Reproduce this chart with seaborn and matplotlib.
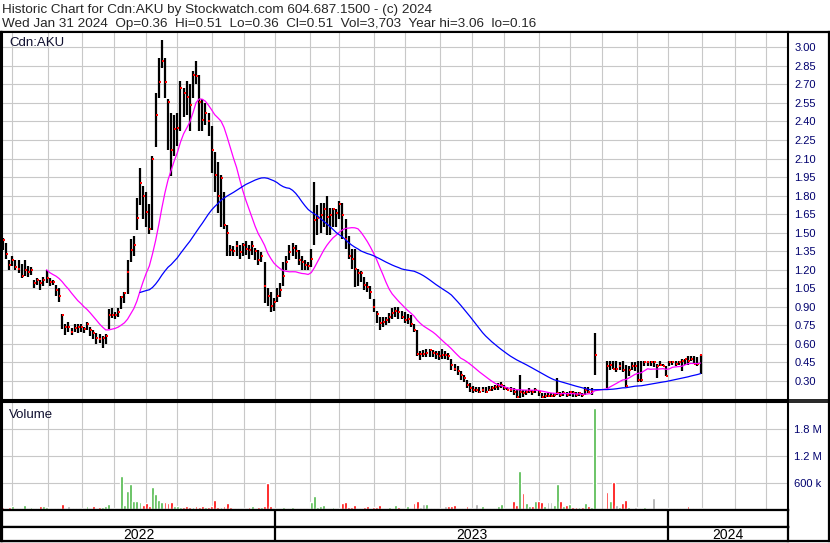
import numpy as np
import pandas as pd
import matplotlib
matplotlib.use("Agg")
import matplotlib.pyplot as plt
import seaborn as sns
from matplotlib.lines import Line2D

# Price bars, one sample every 2 trading days (Apr 2022 - Jan 31 2024), None = no trades
high = [1.46, 1.42, 1.28, 1.31, 1.28, 1.28, 1.25, 1.28, 1.23, 1.22,
        1.12, 1.13, 1.12, 1.14, 1.20, 1.13, 1.12, 1.08, 1.05, 0.84,
        0.76, 0.78, 0.73, 0.76, 0.76, 0.76, 0.74, 0.78, 0.74, 0.71,
        0.69, 0.68, 0.66, 0.68, 0.88, 0.89, 0.86, 0.89, 0.99, 1.02,
        1.28, 1.45, 1.47, 1.78, 2.02, 1.88, 1.83, 1.73, 2.12, 2.63,
        2.91, 3.06, 2.91, 2.58, 2.47, 2.45, 2.47, 2.73, 2.67, 2.73,
        2.70, 2.81, 2.89, 2.78, 2.58, 2.55, 2.47, 2.36, 2.15, 2.07,
        1.97, 1.83, 1.56, 1.40, 1.39, 1.43, 1.40, 1.42, 1.43, 1.40,
        1.43, 1.38, 1.36, 1.34, 1.26, 1.05, 1.02, 0.97, 1.05, 1.09,
        1.26, 1.31, 1.40, 1.42, 1.40, 1.36, 1.31, 1.28, 1.26, 1.37,
        1.91, 1.72, 1.74, 1.74, 1.80, 1.70, 1.70, 1.69, 1.76, 1.74,
        1.61, 1.47, 1.37, 1.37, 1.21, 1.19, 1.14, 1.10, 1.07, 0.96,
        0.87, 0.82, 0.82, 0.82, 0.85, 0.89, 0.90, 0.90, 0.87, 0.86,
        0.84, 0.83, 0.76, 0.71, 0.54, 0.55, 0.56, 0.56, 0.55, 0.54,
        0.54, 0.56, 0.54, 0.53, 0.48, 0.44, 0.42, 0.38, 0.35, 0.31,
        0.28, 0.26, 0.25, 0.25, 0.25, 0.25, 0.26, 0.26, 0.27, 0.28,
        0.29, 0.27, 0.25, 0.25, 0.24, 0.23, 0.35, 0.23, 0.23, 0.24,
        0.23, 0.24, 0.23, 0.20, 0.20, 0.20, 0.20, 0.20, 0.32, 0.21,
        0.22, 0.21, 0.22, 0.22, 0.21, 0.21, 0.20, 0.25, 0.25, 0.24,
        0.69, None, None, None, 0.46, 0.46, 0.46, 0.46, 0.45, 0.46,
        0.43, 0.42, 0.45, 0.45, 0.46, 0.46, 0.46, 0.46, 0.46, 0.46,
        0.44, 0.46, 0.44, 0.42, 0.46, 0.46, 0.46, 0.46, 0.48, 0.48,
        0.50, 0.50, 0.50, 0.49, 0.51]
low = [1.36, 1.29, 1.20, 1.23, 1.20, 1.17, 1.13, 1.15, 1.14, 1.16,
       1.05, 1.08, 1.04, 1.07, 1.09, 1.07, 1.08, 0.99, 0.94, 0.72,
       0.67, 0.70, 0.67, 0.70, 0.69, 0.70, 0.69, 0.71, 0.66, 0.64,
       0.60, 0.61, 0.57, 0.60, 0.72, 0.81, 0.80, 0.82, 0.88, 0.93,
       1.00, 1.26, 1.31, 1.52, 1.72, 1.61, 1.55, 1.49, 1.52, 2.19,
       2.59, 2.83, 2.59, 2.17, 1.96, 2.12, 2.20, 2.32, 2.44, 2.45,
       2.32, 2.59, 2.70, 2.32, 2.32, 2.37, 2.28, 1.98, 1.83, 1.66,
       1.55, 1.53, 1.31, 1.31, 1.31, 1.31, 1.29, 1.31, 1.32, 1.29,
       1.32, 1.28, 1.24, 1.26, 0.93, 0.91, 0.86, 0.87, 0.94, 0.98,
       1.07, 1.20, 1.28, 1.31, 1.29, 1.24, 1.20, 1.20, 1.20, 1.22,
       1.40, 1.48, 1.50, 1.55, 1.48, 1.48, 1.55, 1.55, 1.61, 1.45,
       1.37, 1.29, 1.21, 1.06, 1.07, 1.10, 1.04, 1.02, 0.96, 0.86,
       0.77, 0.71, 0.74, 0.75, 0.77, 0.80, 0.82, 0.80, 0.80, 0.77,
       0.76, 0.74, 0.70, 0.50, 0.47, 0.49, 0.49, 0.49, 0.49, 0.48,
       0.47, 0.48, 0.48, 0.47, 0.39, 0.38, 0.35, 0.31, 0.29, 0.24,
       0.21, 0.20, 0.21, 0.20, 0.21, 0.20, 0.22, 0.22, 0.23, 0.23,
       0.24, 0.23, 0.23, 0.21, 0.19, 0.16, 0.16, 0.17, 0.19, 0.20,
       0.19, 0.20, 0.18, 0.16, 0.16, 0.17, 0.17, 0.17, 0.19, 0.17,
       0.18, 0.17, 0.18, 0.17, 0.17, 0.18, 0.17, 0.19, 0.20, 0.19,
       0.35, None, None, None, 0.24, 0.39, 0.40, 0.37, 0.39, 0.37,
       0.25, 0.34, 0.39, 0.38, 0.29, 0.29, 0.42, 0.42, 0.42, 0.41,
       0.32, 0.42, 0.42, 0.34, 0.42, 0.43, 0.42, 0.43, 0.38, 0.43,
       0.43, 0.46, 0.44, 0.42, 0.36]
close = [1.44, 1.33, 1.24, 1.28, 1.22, 1.21, 1.15, 1.20, 1.18, 1.20,
         1.09, 1.12, 1.09, 1.12, 1.13, 1.10, 1.10, 1.04, 0.99, 0.83,
         0.74, 0.74, 0.70, 0.73, 0.74, 0.74, 0.72, 0.76, 0.71, 0.69,
         0.65, 0.64, 0.65, 0.66, 0.83, 0.83, 0.83, 0.86, 0.98, 1.01,
         1.18, 1.36, 1.40, 1.62, 1.90, 1.80, 1.67, 1.53, 2.10, 2.45,
         2.72, 2.89, 2.72, 2.56, 2.17, 2.34, 2.35, 2.67, 2.63, 2.60,
         2.53, 2.78, 2.77, 2.56, 2.41, 2.47, 2.40, 2.17, 1.97, 1.80,
         1.94, 1.56, 1.50, 1.36, 1.35, 1.39, 1.34, 1.40, 1.37, 1.36,
         1.39, 1.35, 1.28, 1.31, 1.07, 0.99, 0.91, 0.94, 0.99, 1.04,
         1.15, 1.26, 1.34, 1.38, 1.35, 1.28, 1.26, 1.24, 1.23, 1.29,
         1.60, 1.62, 1.64, 1.69, 1.63, 1.64, 1.69, 1.66, 1.73, 1.64,
         1.45, 1.31, 1.29, 1.21, 1.17, 1.17, 1.08, 1.06, 1.02, 0.90,
         0.84, 0.77, 0.78, 0.79, 0.82, 0.85, 0.87, 0.86, 0.82, 0.79,
         0.80, 0.76, 0.71, 0.52, 0.52, 0.52, 0.53, 0.55, 0.53, 0.52,
         0.50, 0.51, 0.51, 0.50, 0.43, 0.40, 0.38, 0.35, 0.32, 0.27,
         0.24, 0.23, 0.23, 0.21, 0.23, 0.21, 0.23, 0.24, 0.25, 0.26,
         0.27, 0.24, 0.23, 0.23, 0.21, 0.17, 0.21, 0.20, 0.21, 0.22,
         0.21, 0.23, 0.21, 0.17, 0.18, 0.18, 0.18, 0.19, 0.20, 0.19,
         0.20, 0.19, 0.21, 0.20, 0.19, 0.20, 0.19, 0.23, 0.21, 0.22,
         0.51, None, None, None, 0.42, 0.43, 0.40, 0.40, 0.42, 0.39,
         0.26, 0.39, 0.42, 0.42, 0.31, 0.31, 0.45, 0.45, 0.45, 0.45,
         0.42, 0.43, 0.42, 0.34, 0.45, 0.45, 0.44, 0.45, 0.46, 0.48,
         0.46, 0.48, 0.44, 0.44, 0.51]
# volume in thousands of shares per sample
volume_k = [38, 35, 40, 60, 25, 30, 28, 100, 25, 40,
            20, 30, 70, 70, 50, 25, 30, 30, 35, 120,
            30, 70, 20, 25, 20, 25, 30, 70, 20, 70,
            30, 50, 45, 70, 115, 30, 25, 30, 756, 90,
            400, 570, 180, 180, 150, 90, 130, 60, 500, 340,
            200, 170, 150, 130, 150, 75, 60, 40, 50, 70,
            40, 50, 60, 45, 75, 40, 55, 60, 200, 50,
            40, 60, 130, 50, 30, 25, 20, 30, 25, 40,
            75, 35, 40, 50, 70, 600, 70, 30, 25, 30,
            40, 30, 25, 45, 30, 20, 25, 30, 25, 150,
            300, 40, 60, 90, 30, 25, 40, 30, 35, 130,
            160, 40, 50, 90, 30, 25, 40, 70, 35, 50,
            45, 90, 30, 25, 40, 35, 90, 45, 30, 30,
            70, 30, 140, 185, 40, 107, 115, 30, 25, 30,
            25, 30, 75, 75, 80, 90, 30, 25, 30, 70,
            30, 25, 115, 30, 70, 25, 30, 20, 25, 70,
            115, 30, 25, 30, 185, 90, 870, 370, 140, 80,
            80, 185, 185, 160, 70, 160, 160, 90, 570, 185,
            70, 90, 115, 45, 40, 45, 40, 130, 70, 40,
            2290, 0, 0, 0, 390, 185, 610, 90, 40, 130,
            200, 40, 30, 45, 25, 30, 40, 20, 30, 250,
            30, 25, 20, 30, 25, 20, 30, 25, 20, 25,
            70, 20, 25, 25, 25]

price_ticks = [3.00, 2.85, 2.70, 2.55, 2.40, 2.25, 2.10, 1.95, 1.80, 1.65,
               1.50, 1.35, 1.20, 1.05, 0.90, 0.75, 0.60, 0.45, 0.30]
volume_ticks = [600e3, 1.2e6, 1.8e6]
volume_labels = ["600 k", "1.2 M", "1.8 M"]
# trading-day index of each month start (May 2022 .. Apr 2024)
month_starts = [6, 29, 51, 71, 92, 112, 134, 155, 175, 197, 216, 238,
                258, 281, 301, 322, 344, 364, 385, 407, 427, 449, 470, 490]
year_breaks = [175, 427]
year_labels = ["2022", "2023", "2024"]

df = pd.DataFrame({"high": high, "low": low, "close": close}, dtype=float)
df["day"] = np.arange(len(df)) * 2
df["volume"] = np.array(volume_k) * 1000.0
chg = df["close"].ffill().diff().fillna(-1)
df["vcol"] = np.where(chg > 0, "#4db848", np.where(chg < 0, "#ff0000", "#a8a8a8"))

valid = df.dropna(subset=["close"]).copy()
valid["ma30"] = valid["close"].rolling(15).mean()
valid["ma90"] = valid["close"].rolling(45).mean()

sns.set_style("white")
plt.rcParams["font.family"] = ["Liberation Sans", "DejaVu Sans"]

W, H = 830, 543
fig = plt.figure(figsize=(8.3, 5.43), dpi=100)


def rect(x0, y0, x1, y1):
    return [x0 / W, 1 - y1 / H, (x1 - x0) / W, (y1 - y0) / H]


XMIN, XMAX = -0.64, 504.2
GRID = "#c8c8c8"
LABEL = "#00006e"

# outer frame
frame = fig.add_axes(rect(1, 32, 829, 541))
frame.set_xticks([])
frame.set_yticks([])
for s in frame.spines.values():
    s.set_color("black")
    s.set_linewidth(1.6)


def style_panel(ax):
    ax.set_xlim(XMIN, XMAX)
    ax.set_facecolor("white")
    for s in ax.spines.values():
        s.set_color("black")
        s.set_linewidth(1.5)
        s.set_visible(True)
    ax.set_xticks([])
    for d in month_starts:
        ax.axvline(d, color=GRID, lw=0.8, zorder=0)


# price panel
ax = fig.add_axes(rect(2, 32, 788, 400))
style_panel(ax)
ax.set_ylim(0.146, 3.124)
for p in price_ticks:
    ax.axhline(p, color=GRID, lw=0.8, zorder=0)
ax.yaxis.tick_right()
ax.set_yticks(price_ticks)
ax.set_yticklabels([f"{p:.2f}" for p in price_ticks])
ax.tick_params(axis="y", length=0, pad=4.5, labelsize=8, labelcolor=LABEL)
ax.vlines(valid["day"], valid["low"], valid["high"], color="black", lw=1.6, zorder=2)
ax.plot(valid["day"] + 0.6, valid["close"], ls="none", marker="s", ms=2.1,
        mew=0, color="#ff0000", zorder=3)
sns.lineplot(x=valid["day"], y=valid["ma30"], ax=ax, color="#ff00ff", lw=0.9, zorder=4)
sns.lineplot(x=valid["day"], y=valid["ma90"], ax=ax, color="#0000ff", lw=0.9, zorder=4)
ax.set_xlabel("")
ax.set_ylabel("")
ax.text(7 / 786, 1 - 14 / 368, "Cdn:AKU", transform=ax.transAxes, fontsize=9.5,
        color="#101030", va="baseline", ha="left")

# volume panel
vax = fig.add_axes(rect(2, 402, 788, 510))
style_panel(vax)
vax.set_ylim(-20e3, 2.42e6)
for v in volume_ticks:
    vax.axhline(v, color=GRID, lw=0.8, zorder=0)
vax.bar(df["day"], df["volume"], width=1.8, color=df["vcol"], zorder=2)
vax.yaxis.tick_right()
vax.set_yticks(volume_ticks)
vax.set_yticklabels(volume_labels)
vax.tick_params(axis="y", length=0, pad=4.5, labelsize=8, labelcolor=LABEL)
vax.text(7 / 786, 1 - 16 / 108, "Volume", transform=vax.transAxes, fontsize=9.5,
         color="#101030", va="baseline", ha="left")

# line across the label column between the panels
for yy in (400, 402):
    fig.add_artist(Line2D([788 / W, 829 / W], [1 - yy / H, 1 - yy / H],
                          color="black", lw=1.2))

# date rows
for y0, y1 in ((510, 527), (527, 541)):
    rax = fig.add_axes(rect(2, y0, 788, y1))
    rax.set_xlim(XMIN, XMAX)
    rax.set_ylim(0, 1)
    rax.set_xticks([])
    rax.set_yticks([])
    for s in rax.spines.values():
        s.set_color("black")
        s.set_linewidth(1.6)
    for d in year_breaks:
        rax.axvline(d, color="black", lw=1.6)
    if y0 == 527:
        edges = [XMIN] + year_breaks + [XMAX]
        for k, lab in enumerate(year_labels):
            rax.text((edges[k] + edges[k + 1]) / 2, 0.45, lab, ha="center",
                     va="center", fontsize=10, color="black")

fig.text(2 / W, 1 - 12.5 / H,
         "Historic Chart for Cdn:AKU by Stockwatch.com 604.687.1500 - (c) 2024",
         fontsize=9.7, va="baseline", ha="left")
fig.text(2 / W, 1 - 27 / H,
         "Wed Jan 31 2024  Op=0.36  Hi=0.51  Lo=0.36  Cl=0.51  Vol=3,703  Year hi=3.06  lo=0.16",
         fontsize=9.7, va="baseline", ha="left")

fig.savefig("out.png", dpi=100)
